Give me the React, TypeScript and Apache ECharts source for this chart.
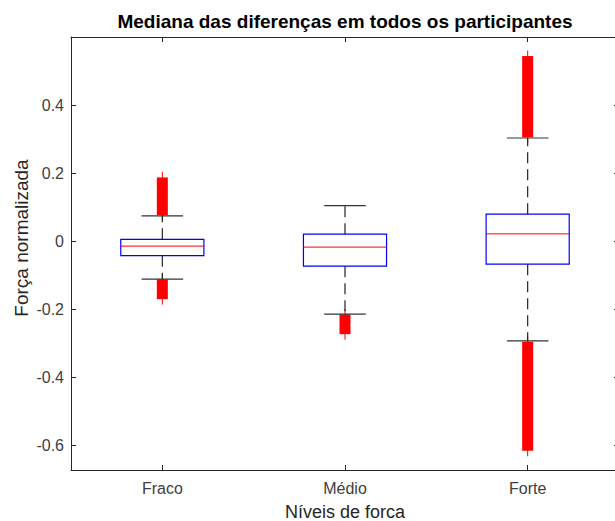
import React, { useEffect, useRef } from "react";
import * as echarts from "echarts";

const categories = ["Fraco", "Médio", "Forte"];
const lowerWhisker = [-0.112, -0.215, -0.294];
const q1 = [-0.043, -0.074, -0.068];
const median = [-0.015, -0.018, 0.021];
const q3 = [0.005, 0.02, 0.079];
const upperWhisker = [0.074, 0.104, 0.303];
// outlier clusters (dense '+' markers), as [min, max] ranges of the marker values
const upperOutlierMin: (number | null)[] = [0.076, null, 0.305];
const upperOutlierMax: (number | null)[] = [0.187, null, 0.544];
const lowerOutlierMin: (number | null)[] = [-0.171, -0.274, -0.617];
const lowerOutlierMax: (number | null)[] = [-0.113, -0.216, -0.296];
const yTicks = [-0.6, -0.4, -0.2, 0, 0.2, 0.4];
const yMin = -0.6735;
const yMax = 0.6;

const titleText = "Mediana das diferenças em todos os participantes";
const xName = "Níveis de forca";
const yName = "Força normalizada";

const FONT = "'Liberation Sans', Arial, Helvetica, sans-serif";
const AXIS_COLOR = "#262626";
const LABEL_COLOR = "#404040";

export default function App() {
  const ref = useRef<HTMLDivElement>(null);
  useEffect(() => {
    if (!ref.current) return;
    const chart = echarts.init(ref.current, null, { renderer: "svg" });

    const boxData = categories.map((_, i) => [
      i,
      lowerWhisker[i],
      q1[i],
      median[i],
      q3[i],
      upperWhisker[i],
    ]);
    const outlierData: number[][] = [];
    categories.forEach((_, i) => {
      if (upperOutlierMin[i] != null && upperOutlierMax[i] != null)
        outlierData.push([i, upperOutlierMin[i] as number, upperOutlierMax[i] as number]);
      if (lowerOutlierMin[i] != null && lowerOutlierMax[i] != null)
        outlierData.push([i, lowerOutlierMin[i] as number, lowerOutlierMax[i] as number]);
    });

    const tickFmt = (v: number) => String(Math.round(v * 10) / 10);

    const baseX = {
      type: "category" as const,
      data: categories,
      boundaryGap: true,
      axisLine: { show: true, onZero: false, lineStyle: { color: AXIS_COLOR, width: 1 } },
      axisTick: { show: true, inside: true, length: 5, alignWithLabel: true, lineStyle: { color: AXIS_COLOR } },
      splitLine: { show: false },
    };
    const baseY = {
      type: "value" as const,
      min: yMin,
      max: yMax,
      axisLine: { show: true, onZero: false, lineStyle: { color: AXIS_COLOR, width: 1 } },
      axisTick: { show: true, inside: true, length: 5, customValues: yTicks, lineStyle: { color: AXIS_COLOR } },
      splitLine: { show: false },
    };

    chart.setOption({
      animation: false,
      backgroundColor: "#ffffff",
      grid: {
        left: 71,
        top: 37,
        width: 548,
        height: 433,
        containLabel: false,
        outerBoundsMode: "none",
      },
      xAxis: [
        {
          ...baseX,
          position: "bottom",
          axisLabel: { show: true, margin: 10, fontSize: 16, color: LABEL_COLOR, fontFamily: FONT },
          name: xName,
          nameLocation: "middle",
          nameGap: 33,
          nameTextStyle: { fontSize: 18, color: AXIS_COLOR, fontFamily: FONT },
        },
        { ...baseX, position: "top", axisLabel: { show: false } },
      ],
      yAxis: [
        {
          ...baseY,
          position: "left",
          axisLabel: {
            show: true,
            margin: 7,
            fontSize: 16,
            color: LABEL_COLOR,
            fontFamily: FONT,
            customValues: yTicks,
            formatter: tickFmt,
          },
        },
        { ...baseY, position: "right", axisLabel: { show: false } },
      ],
      graphic: [
        {
          type: "text",
          x: 345,
          y: 21,
          style: {
            text: titleText,
            fontSize: 19,
            fontWeight: "bold",
            fontFamily: FONT,
            fill: "#000000",
            align: "center",
            verticalAlign: "middle",
          },
        },
        {
          type: "text",
          x: 21.5,
          y: 238,
          rotation: Math.PI / 2,
          style: {
            text: yName,
            fontSize: 19,
            fontFamily: FONT,
            fill: AXIS_COLOR,
            align: "center",
            verticalAlign: "middle",
          },
        },
      ],
      series: [
        {
          type: "custom",
          name: "outliers",
          silent: true,
          xAxisIndex: 0,
          yAxisIndex: 0,
          encode: { x: 0, y: [1, 2] },
          data: outlierData,
          renderItem: (params: any, api: any) => {
            const i = api.value(0);
            const lo = api.coord([i, api.value(1)]);
            const hi = api.coord([i, api.value(2)]);
            const cx = lo[0];
            const half = 5.5;
            return {
              type: "group",
              children: [
                {
                  type: "rect",
                  shape: { x: cx - half, y: hi[1], width: half * 2, height: lo[1] - hi[1] },
                  style: { fill: "#ff0000" },
                },
                {
                  type: "line",
                  shape: { x1: cx, y1: hi[1] - 5.5, x2: cx, y2: lo[1] + 5.5 },
                  style: { stroke: "#ff0000", lineWidth: 1 },
                },
              ],
            };
          },
        },
        {
          type: "custom",
          name: "boxes",
          silent: true,
          xAxisIndex: 0,
          yAxisIndex: 0,
          encode: { x: 0, y: [1, 2, 3, 4, 5] },
          data: boxData,
          renderItem: (params: any, api: any) => {
            const i = api.value(0);
            const pLw = api.coord([i, api.value(1)]);
            const pQ1 = api.coord([i, api.value(2)]);
            const pMed = api.coord([i, api.value(3)]);
            const pQ3 = api.coord([i, api.value(4)]);
            const pUw = api.coord([i, api.value(5)]);
            const band = api.size([1, 0])[0];
            const bw = band * 0.455;
            const cx = pMed[0];
            const capHalf = bw / 4;
            const dash = [11, 6];
            return {
              type: "group",
              children: [
                {
                  type: "line",
                  shape: { x1: cx, y1: pQ3[1], x2: cx, y2: pUw[1] },
                  style: { stroke: "#222222", lineWidth: 1.2, lineDash: dash },
                },
                {
                  type: "line",
                  shape: { x1: cx, y1: pQ1[1], x2: cx, y2: pLw[1] },
                  style: { stroke: "#222222", lineWidth: 1.2, lineDash: dash },
                },
                {
                  type: "line",
                  shape: { x1: cx - capHalf, y1: pUw[1], x2: cx + capHalf, y2: pUw[1] },
                  style: { stroke: "#333333", lineWidth: 1.2 },
                },
                {
                  type: "line",
                  shape: { x1: cx - capHalf, y1: pLw[1], x2: cx + capHalf, y2: pLw[1] },
                  style: { stroke: "#333333", lineWidth: 1.2 },
                },
                {
                  type: "rect",
                  shape: { x: cx - bw / 2, y: pQ3[1], width: bw, height: pQ1[1] - pQ3[1] },
                  style: { fill: "none", stroke: "#0000ff", lineWidth: 1.2 },
                },
                {
                  type: "line",
                  shape: { x1: cx - bw / 2, y1: pMed[1], x2: cx + bw / 2, y2: pMed[1] },
                  style: { stroke: "#ff0000", lineWidth: 1 },
                },
              ],
            };
          },
        },
      ],
    });
    return () => chart.dispose();
  }, []);
  return (
    <div
      ref={ref}
      style={{ position: "fixed", left: 0, top: 0, width: 615, height: 521, background: "#ffffff" }}
    />
  );
}
